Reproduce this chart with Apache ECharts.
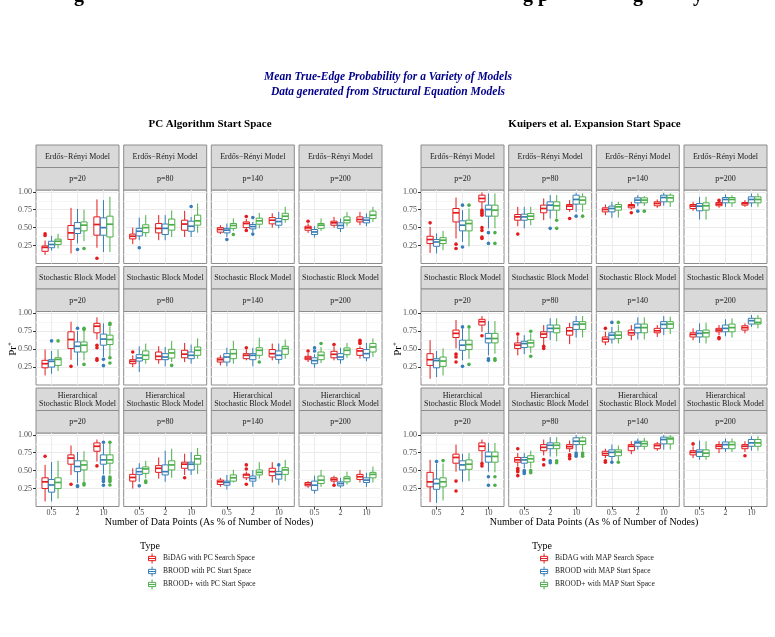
<!DOCTYPE html>
<html>
<head>
<meta charset="utf-8">
<title>Mean True-Edge Probability</title>
<script src="https://cdn.jsdelivr.net/npm/echarts@6/dist/echarts.min.js"></script>
<style>
  html, body { margin: 0; padding: 0; background: #fff; }
  #main { width: 775px; height: 637px; }
</style>
</head>
<body>
<div id="main"></div>
<script>
var xCategories = ['0.5', '2', '10'];
var pLabels = ['p=20', 'p=80', 'p=140', 'p=200'];
var modelLabels = ['Erdős−Rényi Model', 'Stochastic Block Model', 'Hierarchical\nStochastic Block Model'];
var yTicks = [0.25, 0.5, 0.75, 1.0];
var pcNames = ['BiDAG with PC Search Space', 'BROOD with PC Start Space', 'BROOD+ with PC Start Space'];
var mapNames = ['BiDAG with MAP Search Space', 'BROOD with MAP Start Space', 'BROOD+ with MAP Start Space'];
var typeColors = ['#E41A1C', '#377EB8', '#4DAF4A'];

// one entry per facet (ER p20..p200, SBM p20..p200, HSBM p20..p200)
// each facet: [low, q1, median, q3, high] for x = 0.5, 2, 10
var pcBiDAG = [
  [[0.12,0.17,0.225,0.245,0.32],[0.14,0.335,0.427,0.53,0.776],[0.22,0.395,0.544,0.65,0.894]],
  [[0.27,0.343,0.38,0.41,0.50],[0.325,0.427,0.49,0.557,0.675],[0.37,0.464,0.55,0.604,0.735]],
  [[0.41,0.437,0.475,0.50,0.535],[0.48,0.50,0.557,0.58,0.62],[0.50,0.553,0.604,0.64,0.70]],
  [[0.427,0.464,0.497,0.52,0.558],[0.50,0.534,0.567,0.59,0.65],[0.534,0.58,0.614,0.65,0.72]],
  [[0.133,0.24,0.297,0.344,0.494],[0.35,0.508,0.634,0.742,0.883],[0.634,0.728,0.82,0.86,0.944]],
  [[0.25,0.297,0.33,0.353,0.414],[0.297,0.353,0.40,0.46,0.54],[0.32,0.38,0.43,0.484,0.587]],
  [[0.273,0.32,0.353,0.376,0.414],[0.344,0.367,0.414,0.437,0.494],[0.344,0.39,0.437,0.494,0.578]],
  [[0.32,0.353,0.376,0.40,0.447],[0.344,0.38,0.428,0.47,0.54],[0.367,0.414,0.475,0.508,0.54]],
  [[0.07,0.25,0.344,0.40,0.58],[0.44,0.59,0.675,0.72,0.85],[0.627,0.77,0.84,0.887,0.934]],
  [[0.25,0.354,0.405,0.448,0.533],[0.39,0.476,0.533,0.57,0.684],[0.44,0.533,0.59,0.618,0.736]],
  [[0.274,0.307,0.344,0.368,0.40],[0.368,0.40,0.44,0.453,0.486],[0.335,0.43,0.486,0.533,0.618]],
  [[0.26,0.288,0.31,0.335,0.354],[0.32,0.354,0.377,0.40,0.43],[0.335,0.377,0.415,0.448,0.51]]
];
var pcBROOD = [
  [[0.18,0.22,0.265,0.31,0.385],[0.28,0.418,0.488,0.572,0.76],[0.16,0.395,0.50,0.636,0.884]],
  [[0.325,0.385,0.45,0.49,0.64],[0.325,0.404,0.49,0.55,0.675],[0.37,0.45,0.52,0.59,0.65]],
  [[0.37,0.427,0.465,0.49,0.558],[0.44,0.483,0.515,0.544,0.58],[0.49,0.534,0.585,0.627,0.72]],
  [[0.362,0.404,0.44,0.474,0.52],[0.44,0.49,0.53,0.567,0.627],[0.52,0.567,0.604,0.637,0.70]],
  [[0.156,0.25,0.33,0.353,0.475],[0.27,0.46,0.54,0.60,0.75],[0.39,0.555,0.64,0.71,0.86]],
  [[0.18,0.334,0.377,0.423,0.54],[0.26,0.353,0.39,0.437,0.53],[0.297,0.367,0.414,0.46,0.564]],
  [[0.26,0.32,0.39,0.437,0.52],[0.26,0.353,0.414,0.437,0.52],[0.297,0.357,0.414,0.475,0.578]],
  [[0.24,0.297,0.34,0.38,0.43],[0.297,0.353,0.39,0.437,0.52],[0.334,0.38,0.437,0.494,0.587]],
  [[0.07,0.20,0.30,0.377,0.62],[0.33,0.486,0.557,0.637,0.76],[0.45,0.59,0.65,0.72,0.87]],
  [[0.344,0.448,0.486,0.533,0.604],[0.344,0.44,0.486,0.58,0.778],[0.44,0.51,0.59,0.618,0.76]],
  [[0.236,0.297,0.335,0.354,0.44],[0.274,0.354,0.39,0.425,0.51],[0.297,0.382,0.448,0.486,0.557]],
  [[0.18,0.226,0.297,0.354,0.43],[0.26,0.288,0.32,0.344,0.40],[0.274,0.335,0.368,0.40,0.472]]
];
var pcBROODplus = [
  [[0.21,0.265,0.31,0.34,0.415],[0.31,0.455,0.535,0.58,0.75],[0.16,0.37,0.548,0.66,0.93]],
  [[0.37,0.43,0.50,0.54,0.675],[0.37,0.465,0.54,0.62,0.74],[0.43,0.535,0.595,0.674,0.837]],
  [[0.455,0.49,0.53,0.558,0.627],[0.49,0.548,0.595,0.632,0.707],[0.57,0.613,0.66,0.70,0.79]],
  [[0.455,0.49,0.535,0.558,0.627],[0.52,0.567,0.604,0.65,0.72],[0.58,0.627,0.674,0.73,0.79]],
  [[0.194,0.273,0.357,0.38,0.494],[0.344,0.46,0.555,0.60,0.766],[0.39,0.564,0.634,0.695,0.81]],
  [[0.297,0.357,0.414,0.475,0.578],[0.32,0.376,0.447,0.498,0.615],[0.367,0.414,0.484,0.53,0.65]],
  [[0.297,0.367,0.437,0.494,0.615],[0.367,0.414,0.484,0.52,0.66],[0.367,0.428,0.508,0.54,0.634]],
  [[0.306,0.353,0.414,0.46,0.53],[0.38,0.423,0.484,0.517,0.587],[0.39,0.46,0.53,0.578,0.65]],
  [[0.11,0.25,0.335,0.40,0.637],[0.344,0.51,0.58,0.637,0.77],[0.45,0.604,0.65,0.72,0.887]],
  [[0.39,0.462,0.524,0.552,0.637],[0.40,0.51,0.58,0.637,0.806],[0.453,0.59,0.665,0.712,0.816]],
  [[0.335,0.354,0.40,0.44,0.51],[0.39,0.44,0.476,0.51,0.618],[0.354,0.448,0.51,0.542,0.651]],
  [[0.274,0.32,0.368,0.425,0.51],[0.307,0.344,0.39,0.415,0.486],[0.335,0.40,0.448,0.476,0.557]]
];
var mapBiDAG = [
  [[0.148,0.278,0.334,0.38,0.51],[0.348,0.58,0.707,0.767,0.92],[0.767,0.86,0.907,0.953,0.99]],
  [[0.52,0.604,0.65,0.683,0.79],[0.604,0.707,0.767,0.814,0.907],[0.72,0.753,0.80,0.823,0.884]],
  [[0.674,0.72,0.753,0.777,0.823],[0.753,0.777,0.805,0.823,0.86],[0.777,0.805,0.837,0.86,0.893]],
  [[0.735,0.767,0.80,0.823,0.86],[0.777,0.805,0.828,0.85,0.86],[0.79,0.814,0.837,0.85,0.884]],
  [[0.086,0.273,0.353,0.437,0.625],[0.51,0.662,0.72,0.766,0.906],[0.742,0.836,0.883,0.916,0.962]],
  [[0.414,0.508,0.555,0.587,0.68],[0.555,0.662,0.71,0.742,0.836],[0.57,0.695,0.756,0.80,0.868]],
  [[0.555,0.60,0.64,0.67,0.742],[0.625,0.695,0.728,0.766,0.836],[0.67,0.728,0.756,0.79,0.836]],
  [[0.625,0.67,0.705,0.728,0.79],[0.695,0.742,0.766,0.79,0.836],[0.72,0.766,0.80,0.826,0.86]],
  [[0.06,0.274,0.344,0.476,0.65],[0.486,0.604,0.684,0.73,0.863],[0.62,0.778,0.84,0.887,0.934]],
  [[0.557,0.618,0.65,0.684,0.745],[0.712,0.778,0.825,0.863,0.934],[0.76,0.806,0.835,0.863,0.92]],
  [[0.675,0.712,0.74,0.77,0.806],[0.73,0.778,0.84,0.863,0.91],[0.778,0.806,0.85,0.873,0.90]],
  [[0.675,0.72,0.755,0.778,0.84],[0.745,0.806,0.84,0.863,0.91],[0.76,0.806,0.84,0.863,0.91]]
];
var mapBROOD = [
  [[0.14,0.24,0.30,0.334,0.42],[0.30,0.455,0.534,0.595,0.744],[0.49,0.66,0.753,0.814,0.977]],
  [[0.49,0.604,0.65,0.688,0.79],[0.627,0.744,0.814,0.86,0.953],[0.72,0.828,0.893,0.953,0.986]],
  [[0.637,0.72,0.767,0.80,0.86],[0.80,0.846,0.884,0.916,0.953],[0.805,0.86,0.92,0.953,0.986]],
  [[0.613,0.735,0.80,0.837,0.93],[0.79,0.846,0.893,0.92,0.963],[0.79,0.846,0.893,0.93,0.977]],
  [[0.11,0.24,0.34,0.367,0.475],[0.344,0.484,0.555,0.625,0.79],[0.414,0.587,0.648,0.72,0.892]],
  [[0.43,0.522,0.578,0.61,0.695],[0.625,0.742,0.79,0.836,0.93],[0.662,0.775,0.845,0.883,0.962]],
  [[0.578,0.64,0.695,0.728,0.81],[0.634,0.728,0.80,0.85,0.944],[0.695,0.79,0.845,0.883,0.962]],
  [[0.587,0.67,0.72,0.756,0.86],[0.68,0.742,0.79,0.836,0.916],[0.81,0.85,0.897,0.93,0.977]],
  [[0.05,0.24,0.32,0.382,0.60],[0.344,0.51,0.58,0.637,0.736],[0.486,0.618,0.698,0.76,0.887]],
  [[0.533,0.604,0.65,0.684,0.745],[0.698,0.806,0.854,0.887,0.967],[0.778,0.863,0.91,0.958,0.995]],
  [[0.637,0.698,0.755,0.79,0.863],[0.792,0.84,0.887,0.91,0.948],[0.792,0.873,0.934,0.967,0.995]],
  [[0.65,0.698,0.76,0.79,0.92],[0.76,0.806,0.863,0.90,0.948],[0.778,0.84,0.887,0.934,0.98]]
];
var mapBROODplus = [
  [[0.185,0.278,0.325,0.36,0.455],[0.24,0.455,0.557,0.604,0.767],[0.49,0.66,0.744,0.814,0.977]],
  [[0.534,0.613,0.66,0.697,0.79],[0.627,0.744,0.805,0.86,0.953],[0.72,0.828,0.884,0.93,0.977]],
  [[0.64,0.744,0.79,0.823,0.86],[0.80,0.846,0.884,0.916,0.94],[0.79,0.86,0.916,0.953,0.977]],
  [[0.613,0.744,0.805,0.846,0.93],[0.79,0.846,0.893,0.92,0.953],[0.79,0.846,0.893,0.93,0.977]],
  [[0.133,0.26,0.334,0.39,0.51],[0.367,0.494,0.564,0.625,0.79],[0.437,0.587,0.648,0.72,0.892]],
  [[0.447,0.53,0.587,0.625,0.72],[0.61,0.728,0.79,0.836,0.93],[0.662,0.775,0.85,0.883,0.962]],
  [[0.578,0.648,0.695,0.742,0.836],[0.634,0.728,0.80,0.85,0.944],[0.71,0.79,0.85,0.883,0.953]],
  [[0.578,0.67,0.728,0.766,0.868],[0.662,0.742,0.80,0.85,0.93],[0.79,0.85,0.873,0.93,0.977]],
  [[0.085,0.274,0.344,0.40,0.60],[0.354,0.519,0.59,0.65,0.745],[0.476,0.618,0.698,0.76,0.887]],
  [[0.533,0.618,0.665,0.708,0.778],[0.698,0.806,0.854,0.887,0.967],[0.778,0.863,0.91,0.958,0.98]],
  [[0.637,0.708,0.76,0.79,0.85],[0.792,0.84,0.877,0.91,0.958],[0.792,0.873,0.943,0.967,0.995]],
  [[0.65,0.698,0.745,0.79,0.91],[0.76,0.806,0.863,0.90,0.948],[0.778,0.84,0.887,0.934,0.98]]
];

// outliers, same facet order, one list per x category
var pcBiDAGOut = [
  [[0.415,0.39],[],[0.073]], [[],[],[]], [[],[0.655,0.46],[]], [[0.59],[],[]],
  [[],[0.26],[0.555,0.52,0.367,0.344]], [[0.46],[],[]], [[],[0.52],[]], [[0.475],[0.564],[0.625,0.60,0.578]],
  [[0.70],[0.31],[0.566]], [[],[],[0.40]], [[],[0.58,0.524,0.31],[]], [[],[0.297],[]]
];
var pcBROODOut = [
  [[],[0.195],[]], [[0.22],[],[0.795]], [[0.334],[0.64,0.41],[]], [[],[],[]],
  [[0.615],[0.79],[0.36,0.27]], [[],[],[]], [[],[],[]], [[0.52,0.475],[],[]],
  [[],[0.29,0.28],[0.896,0.41,0.39,0.37,0.35,0.297]], [[0.288],[],[]], [[],[],[0.58]], [[],[],[]]
];
var pcBROODplusOut = [
  [[],[0.21],[]], [[],[],[]], [[0.404],[],[]], [[],[],[]],
  [[0.615],[0.79,0.775,0.287],[0.86,0.84,0.38,0.306]], [[],[0.273],[]], [[],[0.32],[]], [[0.578],[],[]],
  [[],[0.32,0.30],[0.896,0.41,0.39,0.37,0.35,0.30]], [[0.354,0.335],[],[]], [[],[],[]], [[],[],[]]
];
var mapBiDAGOut = [
  [[0.567],[0.27,0.21],[0.744,0.72,0.70,0.674,0.50,0.46,0.37,0.35]], [[0.41],[],[0.627]], [[],[0.707],[]], [[],[0.88],[]],
  [[],[0.43,0.39,0.32],[0.686]], [[0.71],[0.54,0.508],[]], [[0.79],[],[]], [[],[0.662,0.645],[]],
  [[],[0.354,0.217],[0.60,0.566]], [[0.806,0.53,0.51,0.486,0.43],[0.656,0.58],[0.72,0.70,0.665]], [[0.637,0.618],[],[]], [[0.873],[],[0.708]]
];
var mapBROODOut = [
  [[],[0.814,0.23],[0.43,0.28]], [[],[0.49],[0.66]], [[],[0.73],[]], [[],[],[]],
  [[],[0.81,0.26],[0.367,0.344]], [[],[],[]], [[0.873],[],[]], [[],[],[]],
  [[0.627],[],[0.415,0.297]], [[0.50,0.48,0.46],[0.637,0.61],[0.745,0.72,0.70]], [[0.618],[],[]], [[],[],[]]
];
var mapBROODplusOut = [
  [[],[0.814],[0.43,0.28]], [[],[0.604,0.49],[0.66]], [[],[0.73],[]], [[],[],[]],
  [[],[0.81,0.287],[0.367,0.344]], [[0.75,0.40],[],[]], [[0.873],[],[]], [[],[],[]],
  [[0.64],[],[0.415,0.297]], [[0.50,0.47],[0.637,0.61],[0.745,0.72,0.70]], [[0.618],[],[]], [[],[],[]]
];

var SERIF = "'Liberation Serif', 'DejaVu Serif', serif";
var panelLefts = [[36, 123.7, 211.3, 299], [421, 508.7, 596.3, 684]];
var facetW = 83;
var stripTops = [145, 266.5, 388];
var stripH = 22.5;
var plotH = 73.5;
var dodge = [-0.25, 0, 0.25];
var boxW = 0.24;

var myChart = echarts.init(document.getElementById('main'));

function makeBox(t) {
  return function (params, api) {
    var x = api.value(0) + dodge[t];
    var color = typeColors[t];
    var lo = api.coord([x, api.value(1)]);
    var q1 = api.coord([x, api.value(2)]);
    var md = api.coord([x, api.value(3)]);
    var q3 = api.coord([x, api.value(4)]);
    var hi = api.coord([x, api.value(5)]);
    var xl = api.coord([x - boxW / 2, api.value(3)])[0];
    var xr = api.coord([x + boxW / 2, api.value(3)])[0];
    var ls = { stroke: color, lineWidth: 1, fill: null };
    return {
      type: 'group',
      children: [
        { type: 'line', shape: { x1: md[0], y1: hi[1], x2: md[0], y2: q3[1] }, style: ls },
        { type: 'line', shape: { x1: md[0], y1: q1[1], x2: md[0], y2: lo[1] }, style: ls },
        { type: 'rect', shape: { x: xl, y: q3[1], width: xr - xl, height: q1[1] - q3[1] },
          style: { fill: '#fff', stroke: color, lineWidth: 1 } },
        { type: 'line', shape: { x1: xl, y1: md[1], x2: xr, y2: md[1] }, style: { stroke: color, lineWidth: 1.7 } }
      ]
    };
  };
}

var grids = [], xAxes = [], yAxes = [], series = [], graphics = [];
var boxSets = [[pcBiDAG, pcBROOD, pcBROODplus], [mapBiDAG, mapBROOD, mapBROODplus]];
var outSets = [[pcBiDAGOut, pcBROODOut, pcBROODplusOut], [mapBiDAGOut, mapBROODOut, mapBROODplusOut]];
var nameSets = [pcNames, mapNames];

for (var pi = 0; pi < 2; pi++) {
  for (var r = 0; r < 3; r++) {
    for (var c = 0; c < 4; c++) {
      var f = r * 4 + c;
      var gi = grids.length;
      var left = panelLefts[pi][c];
      grids.push({
        left: left, top: stripTops[r] + 2 * stripH, width: facetW, height: plotH,
        show: true, borderColor: '#8c8c8c', borderWidth: 1, backgroundColor: '#fff'
      });
      xAxes.push({
        gridIndex: gi, type: 'value', min: 0.4, max: 3.6,
        axisLine: { show: false },
        axisTick: { show: r === 2, customValues: [1, 2, 3], length: 3, lineStyle: { color: '#333' } },
        axisLabel: {
          show: r === 2, customValues: [1, 2, 3], margin: 2, fontSize: 8, color: '#4D4D4D', fontFamily: SERIF,
          formatter: function (v) { return xCategories[Math.round(v) - 1]; }
        },
        splitLine: { show: true, lineStyle: { color: '#EBEBEB', width: 1 } }
      });
      yAxes.push({
        gridIndex: gi, type: 'value', min: 0, max: 1.025, interval: 0.25,
        axisLine: { show: false },
        axisTick: { show: c === 0, customValues: yTicks, length: 3, lineStyle: { color: '#333' } },
        axisLabel: {
          show: c === 0, customValues: yTicks, margin: 4, fontSize: 8, color: '#4D4D4D', fontFamily: SERIF,
          formatter: function (v) { return v.toFixed(2); }
        },
        splitLine: { show: true, lineStyle: { color: '#EBEBEB', width: 1 } },
        minorTick: { show: false, splitNumber: 2 },
        minorSplitLine: { show: true, lineStyle: { color: '#F6F6F6', width: 1 } }
      });

      for (var t = 0; t < 3; t++) {
        var boxes = boxSets[pi][t][f];
        series.push({
          type: 'custom', name: nameSets[pi][t], xAxisIndex: gi, yAxisIndex: gi,
          silent: true, clip: false, itemStyle: { color: typeColors[t] },
          renderItem: makeBox(t),
          encode: { x: 0, y: [1, 2, 3, 4, 5] },
          data: boxes.map(function (b, k) { return [k + 1].concat(b); })
        });
        var pts = [];
        outSets[pi][t][f].forEach(function (vals, k) {
          vals.forEach(function (v) { pts.push([k + 1 + dodge[t], v]); });
        });
        series.push({
          type: 'scatter', name: nameSets[pi][t], xAxisIndex: gi, yAxisIndex: gi,
          silent: true, symbolSize: 3.6, itemStyle: { color: typeColors[t], opacity: 1 },
          data: pts
        });
      }

      // facet strips
      var sy = stripTops[r];
      graphics.push({ type: 'rect', shape: { x: left, y: sy, width: facetW, height: stripH },
        style: { fill: '#D9D9D9', stroke: '#8c8c8c', lineWidth: 1 } });
      graphics.push({ type: 'rect', shape: { x: left, y: sy + stripH, width: facetW, height: stripH },
        style: { fill: '#D9D9D9', stroke: '#8c8c8c', lineWidth: 1 } });
      graphics.push({ type: 'text', x: left + facetW / 2, y: sy + stripH / 2 + 0.5,
        style: { text: modelLabels[r], align: 'center', verticalAlign: 'middle', fontSize: 8,
          lineHeight: 8.5, fontFamily: SERIF, fill: '#1A1A1A' } });
      graphics.push({ type: 'text', x: left + facetW / 2, y: sy + stripH * 1.5 + 0.5,
        style: { text: pLabels[c], align: 'center', verticalAlign: 'middle', fontSize: 8,
          fontFamily: SERIF, fill: '#1A1A1A' } });
    }
  }
}

// axis titles and legend titles
[209, 594].forEach(function (cx) {
  graphics.push({ type: 'text', x: cx, y: 522.5,
    style: { text: 'Number of Data Points (As % of Number of Nodes)', align: 'center', verticalAlign: 'middle',
      fontSize: 10, fontFamily: SERIF, fill: '#000' } });
});
[13, 398].forEach(function (cx) {
  graphics.push({ type: 'text', x: cx, y: 349, rotation: Math.PI / 2,
    style: { text: '{a|Pr}{b|+}', align: 'center', verticalAlign: 'middle',
      rich: { a: { fontSize: 11, fontFamily: SERIF, fill: '#000', lineHeight: 13 },
              b: { fontSize: 7, fontFamily: SERIF, fill: '#000', verticalAlign: 'top' } } } });
});
[140, 532].forEach(function (lx) {
  graphics.push({ type: 'text', x: lx, y: 546,
    style: { text: 'Type', align: 'left', verticalAlign: 'middle', fontSize: 10, fontFamily: SERIF, fill: '#000' } });
});
// cut-off line of text at the very top of the page
[[79, 'g'], [536, 'g p'], [638, 'g'], [698, 'y']].forEach(function (p) {
  graphics.push({ type: 'text', x: p[0], y: 6,
    style: { text: p[1], align: 'center', verticalAlign: 'bottom', fontSize: 20, fontWeight: 'bold',
      fontFamily: SERIF, fill: '#000' } });
});

var boxIcon = 'path://M1,4L11,4L11,10L1,10Z M1,7L11,7 M6,0L6,4 M6,10L6,14';
function legendFor(names, left) {
  return {
    orient: 'vertical', left: left, top: 553, padding: 0, itemWidth: 12, itemHeight: 10, itemGap: 2,
    selectedMode: false,
    textStyle: { fontSize: 7.5, lineHeight: 10, fontFamily: SERIF, color: '#1A1A1A' },
    data: names.map(function (n, i) {
      return { name: n, icon: boxIcon, itemStyle: { color: '#fff', borderColor: typeColors[i], borderWidth: 1 } };
    })
  };
}

var option = {
  backgroundColor: '#fff',
  animation: false,
  title: [
    { text: 'Mean True-Edge Probability for a Variety of Models\nData generated from Structural Equation Models',
      left: 388, top: 70, textAlign: 'center', padding: 0,
      textStyle: { fontSize: 11.5, fontStyle: 'italic', fontWeight: 'bold', color: '#00008B', fontFamily: SERIF, lineHeight: 15 } },
    { text: 'PC Algorithm Start Space', left: 210, top: 118.5, textAlign: 'center', padding: 0,
      textStyle: { fontSize: 11, fontWeight: 'bold', color: '#000', fontFamily: SERIF } },
    { text: 'Kuipers et al. Expansion Start Space', left: 594.5, top: 118.5, textAlign: 'center', padding: 0,
      textStyle: { fontSize: 11, fontWeight: 'bold', color: '#000', fontFamily: SERIF } }
  ],
  legend: [legendFor(pcNames, 148), legendFor(mapNames, 540)],
  grid: grids,
  xAxis: xAxes,
  yAxis: yAxes,
  series: series,
  graphic: graphics
};

myChart.setOption(option);
</script>
</body>
</html>
